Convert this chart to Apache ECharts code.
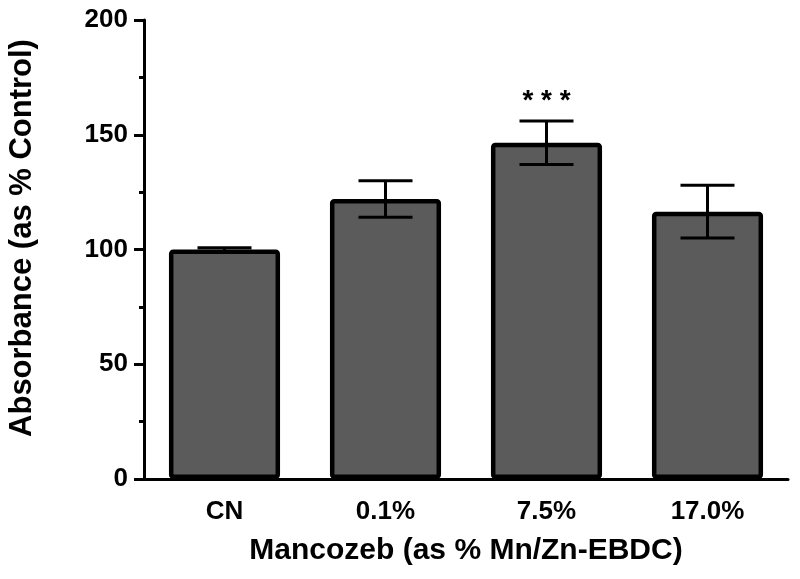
<!DOCTYPE html>
<html><head><meta charset="utf-8">
<script src="https://cdn.jsdelivr.net/npm/echarts@6/dist/echarts.min.js"></script>
<style>html,body{margin:0;padding:0;background:#fff}#c{width:800px;height:579px}</style>
</head><body><div id="c"></div>
<script>
var categories = ['CN', '0.1%', '7.5%', '17.0%'];
var means = [100, 122, 146.5, 116.5];
var errors = [0.8, 8, 9.5, 11.5];
var marks = ['', '', '***', ''];
var yTicks = [0, 50, 100, 150, 200];
var xTitle = 'Mancozeb (as % Mn/Zn-EBDC)';
var yTitle = 'Absorbance (as % Control)';

var chart = echarts.init(document.getElementById('c'));
var font = 'Liberation Sans, Arial, sans-serif';
chart.setOption({
  animation: false,
  grid: {left: 144, right: 12, top: 20, bottom: 100},
  graphic: [
    {type: 'text', x: 466, y: 551, silent: true,
     style: {text: xTitle, font: 'bold 30px ' + font, fill: '#000', align: 'center', verticalAlign: 'middle'}},
    {type: 'text', x: 22, y: 238, rotation: Math.PI / 2, silent: true,
     style: {text: yTitle, font: 'bold 31px ' + font, fill: '#000', align: 'center', verticalAlign: 'middle'}}
  ],
  xAxis: {
    type: 'category', data: categories, boundaryGap: true,
    axisLine: {lineStyle: {color: '#000', width: 3}},
    axisTick: {alignWithLabel: true, length: 9, lineStyle: {color: '#000', width: 3}},
    axisLabel: {fontFamily: font, fontWeight: 'bold', fontSize: 26, color: '#000', margin: 20}
  },
  yAxis: {
    type: 'value', min: 0, max: 200, interval: 50,
    axisLine: {show: true, lineStyle: {color: '#000', width: 3}},
    axisTick: {show: true, length: 10, lineStyle: {color: '#000', width: 3}},
    minorTick: {show: true, splitNumber: 2, length: 5, lineStyle: {color: '#000', width: 3}},
    splitLine: {show: false},
    axisLabel: {fontFamily: font, fontWeight: 'bold', fontSize: 26, color: '#000', margin: 16,
      formatter: function (v) { return yTicks.indexOf(v) >= 0 ? String(v) : ''; }}
  },
  series: [
    {
      type: 'bar', data: means, barWidth: '69%',
      itemStyle: {color: '#5b5b5b', borderColor: '#000', borderWidth: 4.5, borderRadius: 2}
    },
    {
      type: 'custom',
      data: means.map(function (m, i) { return [i, m - errors[i], m + errors[i]]; }),
      encode: {x: 0, y: [1, 2]},
      z: 5,
      renderItem: function (params, api) {
        var i = api.value(0);
        var lo = api.coord([i, api.value(1)]);
        var hi = api.coord([i, api.value(2)]);
        var hw = 27;
        var st = {stroke: '#000', lineWidth: 3};
        var children = [
          {type: 'line', shape: {x1: lo[0], y1: lo[1], x2: hi[0], y2: hi[1]}, style: st},
          {type: 'line', shape: {x1: hi[0] - hw, y1: hi[1], x2: hi[0] + hw, y2: hi[1]}, style: st},
          {type: 'line', shape: {x1: lo[0] - hw, y1: lo[1], x2: lo[0] + hw, y2: lo[1]}, style: st}
        ];
        var mk = marks[params.dataIndex];
        if (mk) {
          children.push({type: 'text', style: {text: mk.split('').join(' '), x: hi[0], y: hi[1] - 6,
            align: 'center', verticalAlign: 'bottom', font: 'bold 28px ' + font, fill: '#000'}});
        }
        return {type: 'group', children: children};
      }
    }
  ]
});
</script></body></html>
